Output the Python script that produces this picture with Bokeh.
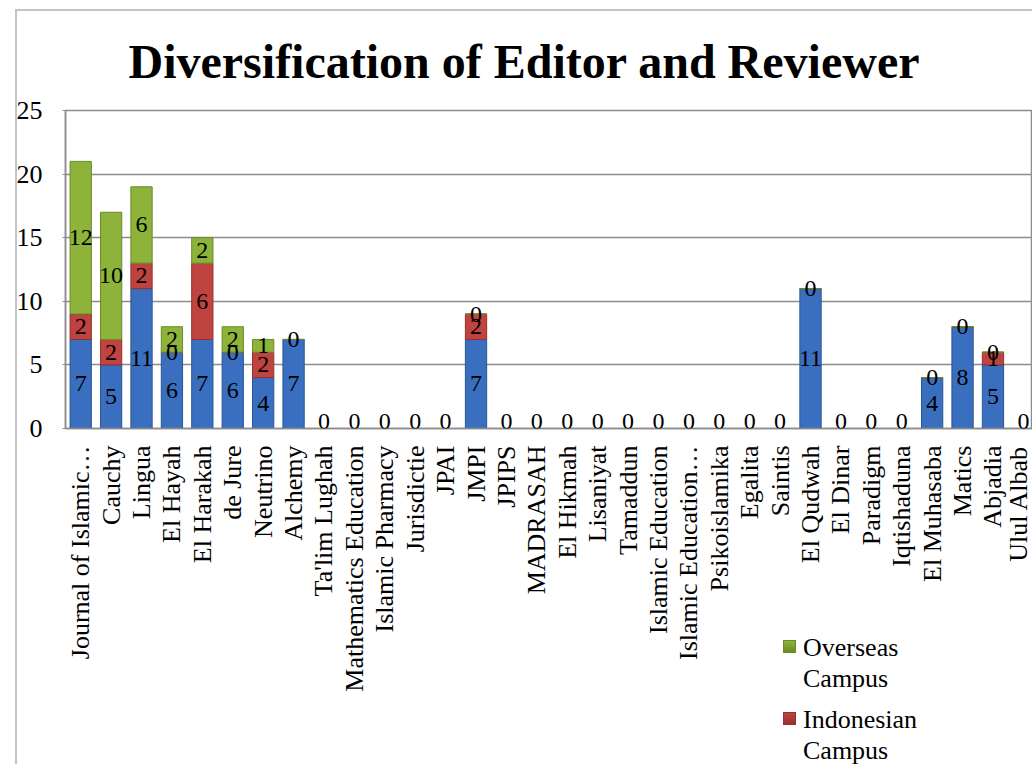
import math
from bokeh.plotting import figure
from bokeh.layouts import column
from bokeh.models import (ColumnDataSource, Range1d, FixedTicker, LabelSet, Div)
from bokeh.core.properties import value
from bokeh.embed import file_html
from bokeh.resources import INLINE

journals = ["Journal of Islamic\u2026", "Cauchy", "Lingua", "El Hayah", "El Harakah",
            "de Jure", "Neutrino", "Alchemy", "Ta'lim Lughah", "Mathematics Education",
            "Islamic Pharmacy", "Jurisdictie", "JPAI", "JMPI", "JPIPS", "MADRASAH",
            "El Hikmah", "Lisaniyat", "Tamaddun", "Islamic Education",
            "Islamic Education\u2026", "Psikoislamika", "Egalita", "Saintis", "El Qudwah",
            "El Dinar", "Paradigm", "Iqtishaduna", "El Muhasaba", "Matics", "Abjadia",
            "Ulul Albab"]
home_campus = [7, 5, 11, 6, 7, 6, 4, 7, 0, 0, 0, 0, 0, 7, 0, 0,
               0, 0, 0, 0, 0, 0, 0, 0, 11, 0, 0, 0, 4, 8, 5, 0]
indonesian_campus = [2, 2, 2, 0, 6, 0, 2, 0, None, None, None, None, None, 2, None, None,
                     None, None, None, None, None, None, None, None, 0, None, None, None, 0, 0, 1, None]
overseas_campus = [12, 10, 6, 2, 2, 2, 1, None, None, None, None, None, None, 0, None, None,
                   None, None, None, None, None, None, None, None, None, None, None, None, None, None, 0, None]
y_ticks = [0, 5, 10, 15, 20, 25]
title_text = "Diversification of Editor and Reviewer"
legend_entries = [("Overseas", "Campus"), ("Indonesian", "Campus")]

SERIF = "Liberation Serif"
BLUE, RED, GREEN = "#3a6fbf", "#bf4340", "#8db33a"
BLUE_E, RED_E, GREEN_E = "#2a5595", "#953230", "#6a8a28"

n = len(journals)
xs = list(range(n))
red_v = [v if v is not None else 0 for v in indonesian_campus]
green_v = [v if v is not None else 0 for v in overseas_campus]

src = ColumnDataSource(dict(x=xs, home=home_campus, indo=red_v, over=green_v))

W, H = 1032, 764
p = figure(width=W, height=H, output_backend="svg", toolbar_location=None,
           x_range=Range1d(-0.5, 31.3), y_range=Range1d(0, 25),
           min_border_left=65, min_border_top=110, min_border_bottom=336,
           min_border_right=0)
p.background_fill_color = "white"
p.border_fill_color = None
p.outline_line_color = "#8c8c8c"
p.outline_line_width = 1.5

# title
p.title.text = title_text
p.title.text_font = SERIF
p.title.text_font_style = "bold"
p.title.text_font_size = "48px"
p.title.text_color = "black"
p.title.align = "left"
p.title.offset = 63
p.title.standoff = 45

p.vbar_stack(["home", "indo", "over"], x="x", width=0.7, source=src,
             color=[BLUE, RED, GREEN], line_color=[BLUE_E, RED_E, GREEN_E],
             line_width=1)

# data labels (centred in each segment; labels sitting on the axis are lifted so they stay inside the frame)
lx, ly, lt, loff = [], [], [], []
for i in xs:
    base = 0
    for series in (home_campus, indonesian_campus, overseas_campus):
        v = series[i]
        if v is None:
            continue
        mid = base + v / 2
        lx.append(i)
        ly.append(mid)
        lt.append(str(v))
        loff.append(7 if mid == 0 else 0)
        base += v
lsrc = ColumnDataSource(dict(x=lx, y=ly, t=lt, off=loff))
p.add_layout(LabelSet(x="x", y="y", text="t", source=lsrc, y_offset="off",
                      text_align="center", text_baseline="middle",
                      text_font=value(SERIF), text_font_size=value("24px"),
                      text_color="black"))

# axes
p.xgrid.visible = False
p.ygrid.grid_line_color = "#8c8c8c"
p.ygrid.grid_line_width = 1.5
p.yaxis.ticker = FixedTicker(ticks=y_ticks)
p.yaxis.axis_line_color = "#8c8c8c"
p.yaxis.axis_line_width = 1.5
p.yaxis.major_tick_out = 3
p.yaxis.major_tick_in = 0
p.yaxis.major_tick_line_color = "#8c8c8c"
p.yaxis.minor_tick_line_color = None
p.yaxis.major_label_standoff = 20
p.yaxis.major_label_text_font = SERIF
p.yaxis.major_label_text_font_size = "26px"
p.yaxis.major_label_text_color = "black"

p.xaxis.ticker = FixedTicker(ticks=xs)
p.xaxis.major_label_overrides = {i: name for i, name in enumerate(journals)}
p.xaxis.major_label_orientation = math.pi / 2
p.xaxis.axis_line_color = "#8c8c8c"
p.xaxis.axis_line_width = 1.5
p.xaxis.major_tick_line_color = None
p.xaxis.minor_tick_line_color = None
p.xaxis.major_label_standoff = 11
p.xaxis.major_label_text_font = SERIF
p.xaxis.major_label_text_font_size = "26px"
p.xaxis.major_label_text_color = "black"

# legend + outer chart border as an HTML overlay
def swatch(top, fill, edge):
    return (f'<div style="position:absolute;left:778px;top:{top}px;width:13px;height:13px;'
            f'background:linear-gradient({fill},{edge});border:1px solid {edge}"></div>')

def entry(top, l1, l2):
    return (f'<div style="position:absolute;left:798px;top:{top}px;white-space:nowrap">'
            f'{l1}<br>{l2}</div>')

(g1, g2), (r1, r2) = legend_entries
overlay_html = (
    f'<div style="position:relative;margin:0;padding:0;width:{W}px;height:{H}px;overflow:hidden;'
    f'font-family:\'{SERIF}\',serif;font-size:26px;line-height:31px;color:#000">'
    '<div style="position:absolute;left:10px;top:4px;width:2000px;height:2px;background:#c4c4c4"></div>'
    '<div style="position:absolute;left:10px;top:4px;width:2px;height:2000px;background:#c4c4c4"></div>'
    + swatch(635, GREEN, GREEN_E) + entry(627, g1, g2)
    + swatch(707, RED, RED_E) + entry(699, r1, r2)
    + '</div>'
)
overlay = Div(text=overlay_html, width=W, height=H,
              styles={"position": "absolute", "left": "0px", "top": "0px",
                      "pointer-events": "none"})

layout = column(p, overlay)
open("out.html", "w").write(file_html(layout, INLINE))
